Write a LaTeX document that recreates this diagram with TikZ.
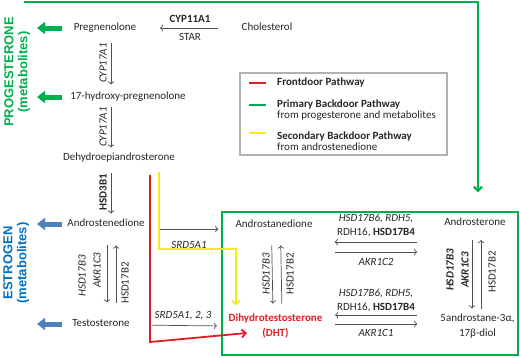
\documentclass[tikz,border=0pt]{standalone}
\usepackage{fontspec}
\setmainfont{Carlito}
\newfontfamily\arialfont{Liberation Sans}
\usetikzlibrary{arrows.meta}

\definecolor{bdgreen}{RGB}{0,176,80}
\definecolor{fdred}{RGB}{226,28,36}
\definecolor{sbyellow}{RGB}{245,235,30}
\definecolor{esblue}{RGB}{0,112,192}
\definecolor{arrblue}{RGB}{79,129,189}
\definecolor{txtgray}{RGB}{38,38,38}
\definecolor{rxgray}{RGB}{80,80,80}

\begin{document}
\begin{tikzpicture}[x=1pt, y=-1pt,
    met/.style={font=\fontsize{11}{15}\selectfont, text=txtgray, inner sep=1pt, text height=8pt, text depth=2.5pt},
    met2/.style={font=\fontsize{11}{15}\selectfont, text=txtgray, inner sep=1pt, align=center},
    enz/.style={font=\fontsize{11}{14}\selectfont\itshape, text=txtgray, inner sep=1pt},
    enzup/.style={font=\fontsize{11}{14}\selectfont, text=txtgray, inner sep=1pt},
    enzbf/.style={font=\fontsize{11}{14}\selectfont\bfseries, text=txtgray, inner sep=1pt},
    rx/.style={->, rxgray, line width=0.7pt},
    fatarr/.style={-{Triangle[length=8pt,width=12pt]}, line width=5pt},
    fdline/.style={fdred, line width=1.8pt, -{Straight Barb[length=4pt,width=8pt]}},
    sbline/.style={sbyellow, line width=1.8pt, -{Straight Barb[length=4pt,width=8pt]}},
    pbline/.style={bdgreen, line width=2.2pt, -{Straight Barb[length=4pt,width=8pt]}},
    side/.style={font=\arialfont\bfseries\fontsize{13}{15}\selectfont, rotate=90, inner sep=0pt},
    lgtext/.style={font=\fontsize{11}{11.5}\selectfont, text=txtgray, anchor=west, align=left, inner sep=0pt}]
    \useasboundingbox (0,0) rectangle (520,357);

    % Boxes
    \node[draw=bdgreen, line width=1.5pt, minimum width=296pt, minimum height=143pt, inner sep=0pt] (bdbox) at (370,283.5) {};
    \node[draw=gray!60, line width=1.2pt, minimum width=207pt, minimum height=82pt, inner sep=0pt] (legend) at (343.5,114) {};

    % Side labels
    \node[side, text=bdgreen] (progl) at (9,72) {PROGESTERONE};
    \node[side, text=bdgreen] (progm) at (24,72) {(metabolites)};
    \node[side, text=esblue] (estl) at (8,263) {ESTROGEN};
    \node[side, text=esblue] (estm) at (23,263) {(metabolites)};

    % Steroids
    \node[met] (chol) at (267,28) {Cholesterol};
    \node[met] (preg) at (105,28) {Pregnenolone};
    \node[met] (ohp) at (128,97) {17-hydroxy-pregnenolone};
    \node[met] (dhea) at (119,158) {Dehydroepiandrosterone};
    \node[met] (adione) at (106,224) {Androstenedione};
    \node[met] (testo) at (101,324) {Testosterone};
    \node[met] (adnd) at (274,225) {Androstanedione};
    \node[met] (ast) at (475,223) {Androsterone};
    \node[met2, text=fdred, font=\fontsize{11}{15}\selectfont\bfseries] (dht) at (275.5,326) {Dihydrotestosterone\\(DHT)};
    \node[met2] (diol) at (477.5,326) {5androstane-3α,\\17β-diol};

    % Outflow arrows
    \coordinate (tail) at (62,0);
    \coordinate (tip) at (37,0);
    \draw[fatarr, bdgreen] (preg -| tail) -- (preg -| tip);
    \draw[fatarr, bdgreen] (ohp -| tail) -- (ohp -| tip);
    \draw[fatarr, arrblue] (adione -| tail) -- (adione -| tip);
    \draw[fatarr, arrblue] (testo -| tail) -- (testo -| tip);

    % Left column
    \draw[rx, shorten <=22.5pt, shorten >=22.5pt] (chol.west) -- (preg.east);
    \node[enzbf] (cyp11) at (190,19) {CYP11A1};
    \node[enzup] (star) at (190,37) {STAR};

    \draw[rx, shorten <=9pt, shorten >=6pt] ([xshift=6pt]preg.south) -- ([xshift=-17pt]ohp.north);
    \node[enz, rotate=90] (cyp17a) at (103,63) {CYP17A1};
    \draw[rx, shorten <=4pt, shorten >=4pt] ([xshift=-17pt]ohp.south) -- ([xshift=-8pt]dhea.north);
    \node[enz, rotate=90] (cyp17b) at (103,127) {CYP17A1};
    \draw[rx, shorten <=9pt, shorten >=4pt] ([xshift=-8pt]dhea.south) -- ([xshift=5pt]adione.north);
    \node[enzbf, rotate=90] (hsd3) at (103,192) {HSD3B1};

    \draw[rx, shorten <=15pt, shorten >=15pt] ([xshift=1pt]adione.south) -- ([xshift=6pt]testo.north);
    \draw[rx, shorten <=15pt, shorten >=15pt] ([xshift=15pt]testo.north) -- ([xshift=10pt]adione.south);
    \node[enz, rotate=90] (hsd3a) at (82,276) {HSD17B3};
    \node[enz, rotate=90] (akr3a) at (97,270) {AKR1C3};
    \node[enzup, rotate=90] (hsd2a) at (125,283) {HSD17B2};

    % Into the backdoor box
    \draw[rx, shorten <=14pt, shorten >=16pt] ([yshift=-5pt]adione.east) -- ([yshift=-4pt]adnd.west);
    \node[enz] (srd1) at (189,245) {SRD5A1};
    \draw[rx, shorten <=21.5pt, shorten >=10.5pt] ([yshift=-1pt]testo.east) -- (dht.west);
    \node[enz] (srd123) at (183,316) {SRD5A1, 2, 3};

    % Inside the box
    \draw[rx, shorten <=14pt, shorten >=9pt] ([xshift=-2.5pt]adnd.south) -- ([xshift=-2.5pt]dht.north);
    \draw[rx, shorten <=9pt, shorten >=14pt] ([xshift=6.5pt]dht.north) -- ([xshift=6.5pt]adnd.south);
    \node[enz, rotate=90] (hsd3b) at (266,274) {HSD17B3};
    \node[enzup, rotate=90] (hsd2b) at (290,274) {HSD17B2};

    \draw[rx, shorten <=26pt, shorten >=21pt] ([yshift=-19pt]ast.west) -- ([yshift=-17pt]adnd.east);
    \draw[rx, shorten <=21pt, shorten >=26pt] ([yshift=-27pt]adnd.east) -- ([yshift=-29pt]ast.west);
    \node[enz, align=center] (fwa) at (376,225) {HSD17B6, RDH5,\\\upshape RDH16, \textbf{HSD17B4}};
    \node[enz] (akr2) at (376,262) {AKR1C2};

    \draw[rx, shorten <=22pt, shorten >=11.5pt] ([yshift=11pt]diol.west) -- ([yshift=11pt]dht.east);
    \draw[rx, shorten <=11.5pt, shorten >=22pt] ([yshift=2pt]dht.east) -- ([yshift=2pt]diol.west);
    \node[enz, align=center] (fwb) at (376,300) {HSD17B6, RDH5,\\\upshape RDH16, \textbf{HSD17B4}};
    \node[enz] (akr1) at (376,333) {AKR1C1};

    \draw[rx, shorten <=10.5pt, shorten >=4pt] ([xshift=-3pt]ast.south) -- ([xshift=-5.5pt]diol.north);
    \draw[rx, shorten <=4pt, shorten >=10.5pt] ([xshift=3.5pt]diol.north) -- ([xshift=6pt]ast.south);
    \node[enz, font=\fontsize{11}{14}\selectfont\bfseries\itshape, rotate=90] (hsd3c) at (450,270) {HSD17B3};
    \node[enz, font=\fontsize{11}{14}\selectfont\bfseries\itshape, rotate=90] (akr3c) at (465,270) {AKR1C3};
    \node[enzup, rotate=90] (hsd2c) at (492,272) {HSD17B2};

    % Pathways
    \coordinate (fdcorner) at (150,342);
    \coordinate (fdend) at (247,333);
    \draw[fdline, shorten <=10.5pt] (dhea.south -| fdcorner) -- (fdcorner) -- (fdend);

    \coordinate (sb1) at (159,249);
    \coordinate (sb2) at (236,249);
    \draw[sbline, shorten <=8pt, shorten >=7pt] (dhea.south -| sb1) -- (sb1) -- (sb2) -- (sb2 |- dht.north);

    \coordinate (pbstart) at (24,2.2);
    \coordinate (pbturn) at (478,2.2);
    \draw[pbline, shorten >=19pt] (pbstart) -- (pbturn) -- (pbturn |- bdbox.north);

    % Legend
    \draw[fdred, line width=1.5pt] (249,83) -- (266,83);
    \draw[bdgreen, line width=1.5pt] (249,105) -- (266,105);
    \draw[sbyellow, line width=1.5pt] (249,133) -- (266,133);
    \node[lgtext, font=\fontsize{11}{11.5}\selectfont\bfseries] (lgfd) at (277,83) {Frontdoor Pathway};
    \node[lgtext] (lgpb) at (277,110) {\textbf{Primary Backdoor Pathway}\\from progesterone and metabolites};
    \node[lgtext] (lgsb) at (277,141) {\textbf{Secondary Backdoor Pathway}\\from androstenedione};
\end{tikzpicture}
\end{document}
